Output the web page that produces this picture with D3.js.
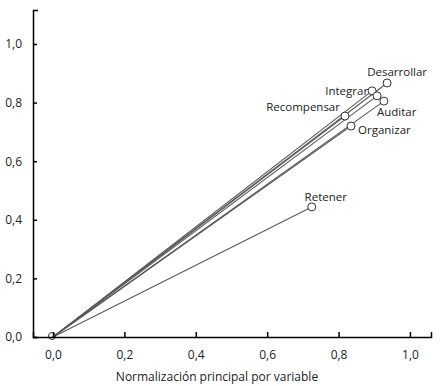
<!DOCTYPE html>
<html>
<head>
<meta charset="utf-8">
<script src="https://cdn.jsdelivr.net/npm/d3@7"></script>
<style>
  body { margin: 0; background: #fff; }
  text { font-family: "Open Sans", sans-serif; fill: #222; }
</style>
</head>
<body>
<script>
// variables (loadings)
var names = ["Desarrollar", "Integrar", "", "Auditar", "Recompensar", "Organizar", "Retener"];
var xVals = [0.936, 0.894, 0.908, 0.927, 0.818, 0.835, 0.725];
var yVals = [0.867, 0.840, 0.823, 0.805, 0.754, 0.720, 0.444];
var xTicks = [0, 0.2, 0.4, 0.6, 0.8, 1.0];
var yTicks = [0, 0.2, 0.4, 0.6, 0.8, 1.0];
var xTitle = "Normalización principal por variable";

var w = 442, h = 386;
var fmt = function(d){ return d3.format(".1f")(d).replace(".", ","); };

var x = d3.scaleLinear().domain([-0.056, 1.059]).range([33, 431]);
var y = d3.scaleLinear().domain([0, 1.116]).range([337, 10]);

// label offsets from point (dx, dy, anchor)
var labelPos = {
  "Desarrollar": [10, -7, "middle"],
  "Integrar":    [-4, 4, "end"],
  "Auditar":     [-7, 15, "start"],
  "Recompensar": [-5, -5, "end"],
  "Organizar":   [7, 8, "start"],
  "Retener":     [14, -6, "middle"]
};

var svg = d3.select("body").append("svg")
    .attr("width", w)
    .attr("height", h);

var pts = names.map(function(n, i){ return {name: n, x: xVals[i], y: yVals[i]}; });

// lines from origin
svg.selectAll("line.vec")
    .data(pts)
  .enter().append("line")
    .attr("class", "vec")
    .attr("x1", x(0)).attr("y1", y(0))
    .attr("x2", function(d){ return x(d.x); })
    .attr("y2", function(d){ return y(d.y); })
    .style("stroke", "#5a5a5a")
    .style("stroke-width", 1.1);

// origin marker
svg.append("circle")
    .attr("cx", x(0) - 1).attr("cy", y(0) - 1).attr("r", 3.5)
    .style("fill", "none").style("stroke", "#333");

svg.selectAll("circle.pt")
    .data(pts)
  .enter().append("circle")
    .attr("class", "pt")
    .attr("cx", function(d){ return x(d.x); })
    .attr("cy", function(d){ return y(d.y); })
    .attr("r", 4)
    .style("fill", "#fff")
    .style("stroke", "#333")
    .style("stroke-width", 1);

svg.selectAll("text.lbl")
    .data(pts.filter(function(d){ return d.name; }))
  .enter().append("text")
    .attr("class", "lbl")
    .attr("x", function(d){ return x(d.x) + labelPos[d.name][0]; })
    .attr("y", function(d){ return y(d.y) + labelPos[d.name][1]; })
    .attr("text-anchor", function(d){ return labelPos[d.name][2]; })
    .style("font-size", "11.5px")
    .text(function(d){ return d.name; });

// axes
var xAxis = d3.axisBottom(x).tickValues(xTicks).tickFormat(fmt)
    .tickSizeInner(-5).tickSizeOuter(-5).tickPadding(13);
var yAxis = d3.axisLeft(y).tickValues(yTicks).tickFormat(fmt)
    .tickSizeInner(-4).tickSizeOuter(-5).tickPadding(11);

var gx = svg.append("g").attr("transform", "translate(0," + y(0) + ")").call(xAxis);
var gy = svg.append("g").attr("transform", "translate(" + x(-0.056) + ",0)").call(yAxis);

[gx, gy].forEach(function(g){
  g.selectAll("path, line").style("stroke", "#000").style("stroke-width", 1.5);
  g.selectAll("text").style("font-size", "12px").style("font-family", "'Open Sans', sans-serif").style("fill", "#222");
});

svg.append("text")
    .attr("x", 217).attr("y", 381)
    .attr("text-anchor", "middle")
    .style("font-size", "12px")
    .text(xTitle);
</script>
</body>
</html>
